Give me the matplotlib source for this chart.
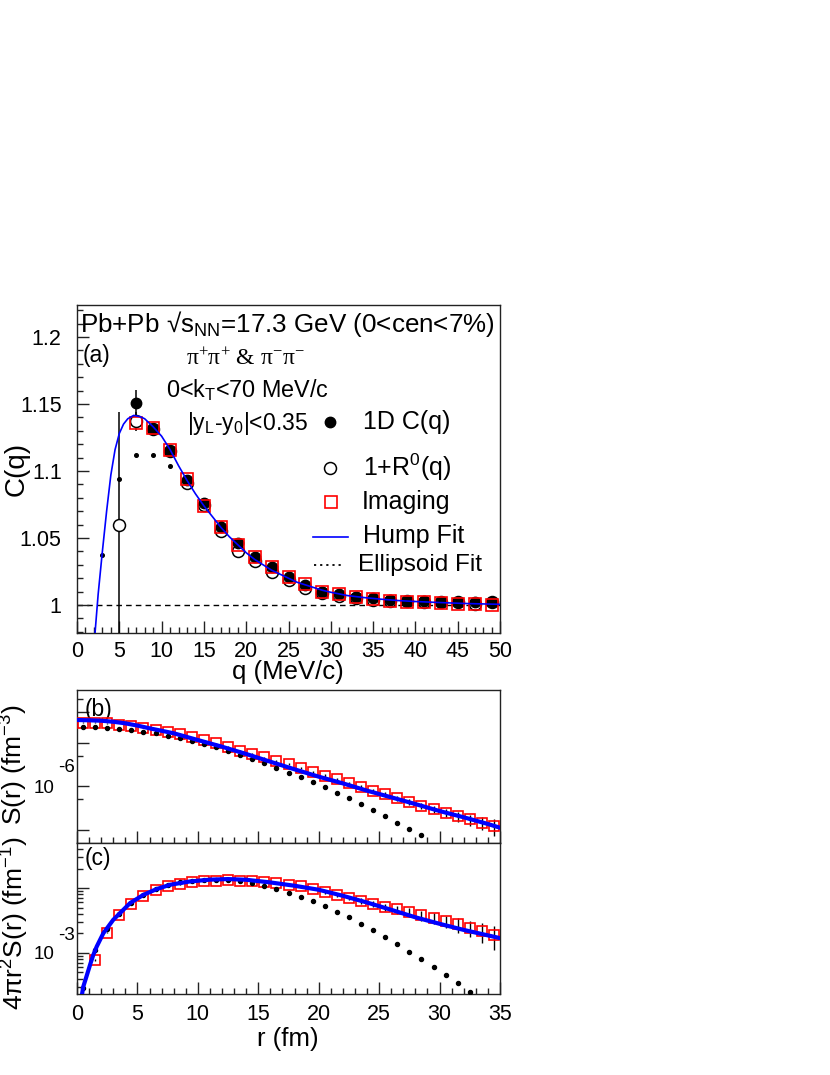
import matplotlib
matplotlib.use("Agg")
import matplotlib.pyplot as plt
from matplotlib.ticker import FixedLocator, MultipleLocator, NullFormatter, FuncFormatter

plt.rcParams['font.family'] = ['Liberation Sans', 'DejaVu Sans']
plt.rcParams['mathtext.fontset'] = 'custom'
plt.rcParams['mathtext.rm'] = 'Liberation Sans'
plt.rcParams['mathtext.it'] = 'Liberation Sans:italic'
plt.rcParams['mathtext.bf'] = 'Liberation Sans:bold'
plt.rcParams['mathtext.default'] = 'regular'

# ---------------- panel (a): correlation function C(q) ----------------
q_1d = [7, 9, 11, 13, 15, 17, 19, 21, 23, 25, 27, 29, 31, 33, 35, 37, 39, 41, 43, 45, 47, 49]
c_1d = [1.151, 1.131, 1.115, 1.093, 1.076, 1.058, 1.046, 1.036, 1.028, 1.021, 1.015,
        1.010, 1.008, 1.006, 1.005, 1.004, 1.003, 1.003, 1.002, 1.002, 1.002, 1.002]
c_1d_err = [0.0095, 0.004, 0.003, 0.003, 0.002, 0.002, 0.002, 0.002, 0.002, 0.002, 0.001,
            0.001, 0.001, 0.001, 0.001, 0.001, 0.001, 0.001, 0.001, 0.001, 0.001, 0.001]

q_r0 = [5, 7, 9, 11, 13, 15, 17, 19, 21, 23, 25, 27, 29, 31, 33, 35, 37, 39, 41, 43, 45, 47, 49]
c_r0 = [1.060, 1.137, 1.131, 1.115, 1.091, 1.075, 1.055, 1.040, 1.033, 1.025, 1.019, 1.013,
        1.009, 1.007, 1.005, 1.004, 1.003, 1.003, 1.002, 1.002, 1.002, 1.001, 1.002]
c_r0_err = [0.084, 0.007, 0.004, 0.003, 0.003, 0.002, 0.002, 0.002, 0.002, 0.002, 0.001, 0.001,
            0.001, 0.001, 0.001, 0.001, 0.001, 0.001, 0.001, 0.001, 0.001, 0.001, 0.001]

q_img = [7, 9, 11, 13, 15, 17, 19, 21, 23, 25, 27, 29, 31, 33, 35, 37, 39, 41, 43, 45, 47, 49]
c_img = [1.136, 1.132, 1.116, 1.094, 1.074, 1.058, 1.045, 1.036, 1.028, 1.021, 1.016,
         1.010, 1.008, 1.006, 1.0045, 1.003, 1.0025, 1.002, 1.0012, 1.0007, 1.0005, 1.000]

q_ell = [3, 5, 7, 9, 11, 13, 15, 17, 19, 21, 23, 25, 27, 29, 31, 33, 35, 37, 39, 41, 43, 45, 47, 49]
c_ell = [1.037, 1.094, 1.112, 1.112, 1.104, 1.090, 1.075, 1.061, 1.048, 1.037, 1.028, 1.020,
         1.015, 1.011, 1.008, 1.006, 1.004, 1.003, 1.002, 1.002, 1.001, 1.001, 1.001, 1.000]

q_hump = [2.13, 2.5, 3.0, 3.5, 4.0, 4.5, 5.0, 5.5, 6.0, 6.7, 7.5, 8.0, 9.0, 10.0, 11.0, 12.0,
          13.0, 14.0, 15.0, 16.0, 17.0, 18.0, 19.0, 20.0, 21.0, 22.0, 23.0, 24.0, 25.0, 26.0,
          27.0, 28.0, 29.0, 30.0, 32.0, 34.0, 36.0, 38.0, 40.0, 43.0, 46.0, 50.0]
c_hump = [0.979, 1.008, 1.040, 1.070, 1.097, 1.116, 1.128, 1.135, 1.139, 1.1415, 1.1405, 1.139,
          1.133, 1.126, 1.116, 1.104, 1.093, 1.083, 1.074, 1.066, 1.058, 1.051, 1.045, 1.039,
          1.034, 1.030, 1.026, 1.023, 1.020, 1.017, 1.015, 1.013, 1.011, 1.0095, 1.007, 1.0055,
          1.0043, 1.0033, 1.0026, 1.0018, 1.0011, 1.0005]

# ---------------- panel (b): source function S(r) ----------------
r_img = [0.5, 1.5, 2.5, 3.5, 4.5, 5.5, 6.5, 7.5, 8.5, 9.5, 10.5, 11.5, 12.5, 13.5, 14.5, 15.5,
         16.5, 17.5, 18.5, 19.5, 20.5, 21.5, 22.5, 23.5, 24.5, 25.5, 26.5, 27.5, 28.5, 29.5,
         30.5, 31.5, 32.5, 33.5, 34.5]
s_img = [2.85e-5, 2.85e-5, 2.75e-5, 2.52e-5, 2.39e-5, 2.19e-5, 1.94e-5, 1.71e-5, 1.54e-5,
         1.32e-5, 1.14e-5, 9.57e-6, 8.02e-6, 6.49e-6, 5.45e-6, 4.56e-6, 3.76e-6, 3.15e-6,
         2.64e-6, 2.13e-6, 1.73e-6, 1.42e-6, 1.15e-6, 9.66e-7, 7.82e-7, 6.43e-7, 5.20e-7,
         4.37e-7, 3.53e-7, 2.96e-7, 2.44e-7, 2.04e-7, 1.71e-7, 1.44e-7, 1.20e-7]
s_img_err = [0.08e-5, 0.06e-5, 0.05e-5, 0.04e-5, 0.04e-5, 0.03e-5, 0.03e-5, 0.03e-5, 0.03e-5,
             0.03e-5, 0.03e-5, 0.25e-6, 0.22e-6, 0.20e-6, 0.18e-6, 0.17e-6, 0.16e-6, 0.15e-6,
             0.14e-6, 0.13e-6, 0.12e-6, 0.11e-6, 0.10e-6, 0.09e-6, 0.085e-6, 0.08e-6, 0.07e-6,
             0.065e-6, 0.06e-6, 0.058e-6, 0.055e-6, 0.052e-6, 0.05e-6, 0.048e-6, 0.05e-6]

r_ell_b = [0.5, 1.5, 2.5, 3.5, 4.5, 5.5, 6.5, 7.5, 8.5, 9.5, 10.5, 11.5, 12.5, 13.5, 14.5,
           15.5, 16.5, 17.5, 18.5, 19.5, 20.5, 21.5, 22.5, 23.5, 24.5, 25.5, 26.5, 27.5, 28.5]
s_ell = [2.31e-5, 2.23e-5, 2.19e-5, 2.04e-5, 1.94e-5, 1.77e-5, 1.63e-5, 1.43e-5, 1.25e-5,
         1.08e-5, 9.25e-6, 7.76e-6, 6.38e-6, 5.16e-6, 4.18e-6, 3.44e-6, 2.64e-6, 2.02e-6,
         1.58e-6, 1.26e-6, 9.33e-7, 7.02e-7, 5.21e-7, 3.79e-7, 2.81e-7, 2.04e-7, 1.43e-7,
         1.03e-7, 7.48e-8]

r_hump_b = [0, 1, 2, 3, 4, 5, 6, 7, 8, 10, 12, 14, 16, 18, 20, 22, 24, 26, 28, 30, 32, 34, 35]
s_hump = [3.29e-5, 3.24e-5, 3.17e-5, 3.00e-5, 2.76e-5, 2.45e-5, 2.12e-5, 1.86e-5, 1.63e-5,
          1.14e-5, 8.00e-6, 5.45e-6, 3.62e-6, 2.42e-6, 1.64e-6, 1.15e-6, 7.82e-7, 5.50e-7,
          3.85e-7, 2.66e-7, 1.91e-7, 1.34e-7, 1.10e-7]

# ---------------- panel (c): 4 pi r^2 S(r) ----------------
r_img_c = [1.5, 2.5, 3.5, 4.5, 5.5, 6.5, 7.5, 8.5, 9.5, 10.5, 11.5, 12.5, 13.5, 14.5, 15.5,
           16.5, 17.5, 18.5, 19.5, 20.5, 21.5, 22.5, 23.5, 24.5, 25.5, 26.5, 27.5, 28.5, 29.5,
           30.5, 31.5, 32.5, 33.5, 34.5]
p_img = [7.80e-4, 2.06e-3, 3.86e-3, 5.71e-3, 7.60e-3, 9.18e-3, 1.059e-2, 1.153e-2, 1.222e-2,
         1.265e-2, 1.297e-2, 1.312e-2, 1.297e-2, 1.265e-2, 1.222e-2, 1.194e-2, 1.125e-2,
         1.059e-2, 9.75e-3, 8.81e-3, 7.94e-3, 7.08e-3, 6.31e-3, 5.69e-3, 5.13e-3, 4.68e-3,
         4.22e-3, 3.80e-3, 3.43e-3, 3.09e-3, 2.75e-3, 2.45e-3, 2.16e-3, 1.86e-3]
p_img_err = [0.3e-4, 0.6e-4, 1.0e-4, 1.4e-4, 1.8e-4, 2.2e-4, 2.6e-4, 3.0e-4, 3.3e-4, 3.6e-4,
             3.9e-4, 4.2e-4, 4.4e-4, 4.6e-4, 4.8e-4, 5.0e-4, 5.2e-4, 5.4e-4, 5.6e-4, 5.8e-4,
             5.9e-4, 6.0e-4, 6.1e-4, 6.2e-4, 6.3e-4, 6.4e-4, 6.5e-4, 6.6e-4, 6.7e-4, 6.8e-4,
             6.9e-4, 7.0e-4, 7.2e-4, 7.5e-4]

r_ell_c = [0.5, 1.5, 2.5, 3.5, 4.5, 5.5, 6.5, 7.5, 8.5, 9.5, 10.5, 11.5, 12.5, 13.5, 14.5,
           15.5, 16.5, 17.5, 18.5, 19.5, 20.5, 21.5, 22.5, 23.5, 24.5, 25.5, 26.5, 27.5, 28.5,
           29.5, 30.5, 31.5, 32.5]
p_ell = [2.85e-4, 1.11e-3, 2.32e-3, 4.01e-3, 5.86e-3, 7.87e-3, 9.66e-3, 1.112e-2, 1.230e-2,
         1.303e-2, 1.337e-2, 1.343e-2, 1.318e-2, 1.268e-2, 1.180e-2, 1.076e-2, 9.55e-3,
         8.38e-3, 7.26e-3, 6.21e-3, 5.20e-3, 4.35e-3, 3.52e-3, 2.81e-3, 2.26e-3, 1.75e-3,
         1.38e-3, 1.05e-3, 8.07e-4, 6.14e-4, 4.57e-4, 3.40e-4, 2.52e-4]

r_hump_c = [0.4, 0.52, 0.8, 1.13, 1.35, 1.63, 2.18, 3.0, 3.56, 4.39, 5.5, 6.6, 7.7, 9.35, 11.0,
            12.5, 14.0, 16.0, 18.0, 20.0, 22.0, 24.0, 26.0, 28.0, 30.0, 32.0, 35.0]
p_hump = [2.2e-4, 3.01e-4, 4.42e-4, 7.0e-4, 9.31e-4, 1.25e-3, 2.01e-3, 3.24e-3, 4.11e-3,
          5.86e-3, 7.87e-3, 9.66e-3, 1.125e-2, 1.265e-2, 1.349e-2, 1.377e-2, 1.343e-2,
          1.222e-2, 1.086e-2, 9.42e-3, 7.60e-3, 5.98e-3, 4.62e-3, 3.54e-3, 2.81e-3, 2.26e-3,
          1.69e-3]

# ---------------- figure ----------------
W, H = 830, 1075
fig = plt.figure(figsize=(W / 100, H / 100), dpi=100)


def fx(px):
    return px / W


def fy(py):
    return 1 - py / H


TICK = 15.5
LOGTICK = 13.5
BLUE = '#0000ff'
RED = '#ff0000'


def style_axes(ax):
    for s in ax.spines.values():
        s.set_linewidth(1.0)
        s.set_color('#222222')
    ax.tick_params(which='both', direction='in', top=False, right=False,
                   labelsize=TICK, width=1.0, color='#222222')
    ax.tick_params(which='major', length=8.6)
    ax.tick_params(which='minor', length=4.3)


# ---- panel (a)
ax_a = fig.add_axes([fx(77), fy(633), fx(500) - fx(77), fy(305) - fy(633)])
style_axes(ax_a)
ax_a.set_xlim(0, 50)
ax_a.set_ylim(0.9791, 1.2239)
ax_a.xaxis.set_major_locator(MultipleLocator(5))
ax_a.xaxis.set_minor_locator(MultipleLocator(1))
ax_a.yaxis.set_major_locator(MultipleLocator(0.05))
ax_a.yaxis.set_minor_locator(MultipleLocator(0.01))
ax_a.yaxis.set_major_formatter(FuncFormatter(lambda v, p: f"{round(v, 3):g}"))
ax_a.xaxis.set_major_formatter(FuncFormatter(lambda v, p: f"{round(v):d}"))
ax_a.tick_params(axis='y', pad=11)
ax_a.tick_params(axis='x', pad=5.5)

ax_a.axhline(1.0, color='black', lw=1.0, ls=(0, (4, 3)), zorder=1)
ax_a.plot(q_ell, c_ell, ls='none', marker='o', ms=2.6, color='black', zorder=2)
ax_a.errorbar(q_r0, c_r0, yerr=c_r0_err, fmt='o', ms=8.6, mfc='white', mec='black',
              mew=1.1, ecolor='black', elinewidth=1.1, capsize=0, zorder=3)
ax_a.errorbar(q_1d, c_1d, yerr=c_1d_err, fmt='o', ms=7.5, mfc='black', mec='black',
              ecolor='black', elinewidth=1.1, capsize=0, zorder=4)
ax_a.plot(q_img, c_img, ls='none', marker='s', ms=9.3, mfc='none', mec=RED, mew=1.2,
          zorder=5)
ax_a.plot(q_hump, c_hump, color=BLUE, lw=1.2, zorder=6)

fig.text(fx(288), fy(679), 'q (MeV/c)', ha='center', va='baseline', fontsize=18.5)
fig.text(fx(17), fy(469), 'C(q)', ha='center', va='center', rotation=90, fontsize=20)

# annotations inside panel (a)
fig.text(fx(80), fy(332), 'Pb+Pb \u221as$_{NN}$=17.3 GeV (0<cen<7%)', ha='left',
         va='baseline', fontsize=18.7)
fig.text(fx(83), fy(362), '(a)', ha='left', va='baseline', fontsize=16.5)
fig.text(fx(245), fy(365), r'$\pi^{+}\pi^{+}$ & $\pi^{-}\pi^{-}$', ha='center',
         va='baseline', fontsize=17, family=['Liberation Serif', 'DejaVu Serif'],
         math_fontfamily='stix')
fig.text(fx(166), fy(397), '0<k$_{T}$<70 MeV/c', ha='left', va='baseline', fontsize=16.8)
fig.text(fx(187), fy(430), '|y$_{L}$-y$_{0}$|<0.35', ha='left', va='baseline', fontsize=16.5)

# legend (drawn manually, ROOT style, no frame)
tf = fig.transFigure
ax_a.plot([fx(330)], [fy(422)], marker='o', ms=7.5, color='black', transform=tf,
          clip_on=False)
fig.text(fx(363), fy(429), '1D C(q)', ha='left', va='baseline', fontsize=18)
ax_a.plot([fx(330)], [fy(468)], marker='o', ms=8.6, mfc='white', mec='black', mew=1.1,
          transform=tf, clip_on=False)
fig.text(fx(363), fy(476), '1+R$^{0}$(q)', ha='left', va='baseline', fontsize=18)
ax_a.plot([fx(330.5)], [fy(502)], marker='s', ms=9.3, mfc='none', mec=RED, mew=1.2,
          transform=tf, clip_on=False)
fig.text(fx(362), fy(509), 'Imaging', ha='left', va='baseline', fontsize=18)
ax_a.plot([fx(313), fx(348)], [fy(537), fy(537)], color=BLUE, lw=1.2, transform=tf,
          clip_on=False)
fig.text(fx(363), fy(543), 'Hump Fit', ha='left', va='baseline', fontsize=18)
ax_a.plot([fx(314), fx(344)], [fy(565), fy(565)], color='black', lw=1.3, ls=(0, (1.2, 2.2)),
          transform=tf, clip_on=False)
fig.text(fx(358), fy(571), 'Ellipsoid Fit', ha='left', va='baseline', fontsize=17.5)

# ---- panel (b)
ax_b = fig.add_axes([fx(77), fy(843), fx(500) - fx(77), fy(690) - fy(843)])
style_axes(ax_b)
ax_b.set_yscale('log')
ax_b.set_xlim(0, 35)
ax_b.set_ylim(4.9e-8, 1.61e-4)
ax_b.xaxis.set_major_locator(MultipleLocator(5))
ax_b.xaxis.set_minor_locator(MultipleLocator(1))
ax_b.xaxis.set_major_formatter(NullFormatter())
ax_b.yaxis.set_major_locator(FixedLocator([1e-7, 1e-6, 1e-5, 5e-5]))
ax_b.yaxis.set_minor_locator(FixedLocator([5e-7, 5e-6, 1e-4]))
ax_b.yaxis.set_major_formatter(
    FuncFormatter(lambda v, p: '10' if abs(v - 1e-6) < 1e-12 else ''))
ax_b.yaxis.set_minor_formatter(NullFormatter())
ax_b.tick_params(axis='y', pad=16, labelsize=LOGTICK)
fig.text(fx(75), fy(768), '-6', ha='right', va='center', fontsize=LOGTICK)

ax_b.errorbar(r_img, s_img, yerr=s_img_err, fmt='s', ms=7.2, mfc='none', mec=RED, mew=1.2,
              ecolor='black', elinewidth=1.0, capsize=0, zorder=3)
ax_b.plot(r_ell_b, s_ell, ls='none', marker='o', ms=2.9, color='black', zorder=4)
ax_b.plot(r_hump_b, s_hump, color=BLUE, lw=3.0, zorder=5)
ax_b.text(0.019, 0.83, '(b)', transform=ax_b.transAxes, fontsize=16.5, ha='left',
          va='baseline')
fig.text(fx(14), fy(765), 'S(r) (fm$^{-3}$)', ha='center', va='center', rotation=90,
         fontsize=19)

# ---- panel (c)
ax_c = fig.add_axes([fx(77), fy(994), fx(500) - fx(77), fy(843) - fy(994)])
style_axes(ax_c)
ax_c.set_yscale('log')
ax_c.set_xlim(0, 35)
ax_c.set_ylim(2.32e-4, 0.0496)
ax_c.xaxis.set_major_locator(MultipleLocator(5))
ax_c.xaxis.set_minor_locator(MultipleLocator(1))
ax_c.xaxis.set_major_formatter(FuncFormatter(lambda v, p: f"{round(v):d}"))
ax_c.yaxis.set_major_locator(FixedLocator([1e-3, 1e-2]))
ax_c.yaxis.set_minor_locator(FixedLocator(
    [k * 1e-4 for k in range(3, 10)] + [k * 1e-3 for k in range(2, 10)] +
    [k * 1e-2 for k in range(2, 5)]))
ax_c.yaxis.set_major_formatter(
    FuncFormatter(lambda v, p: '10' if abs(v - 1e-3) < 1e-9 else ''))
ax_c.yaxis.set_minor_formatter(NullFormatter())
ax_c.tick_params(axis='y', pad=16, labelsize=LOGTICK)
ax_c.tick_params(axis='x', pad=7)
fig.text(fx(75), fy(936), '-3', ha='right', va='center', fontsize=LOGTICK)

ax_c.errorbar(r_img_c, p_img, yerr=p_img_err, fmt='s', ms=7.2, mfc='none', mec=RED,
              mew=1.2, ecolor='black', elinewidth=1.0, capsize=0, zorder=3)
ax_c.plot(r_ell_c, p_ell, ls='none', marker='o', ms=2.9, color='black', zorder=4)
ax_c.plot(r_hump_c, p_hump, color=BLUE, lw=3.0, zorder=5)
ax_c.text(0.019, 0.854, '(c)', transform=ax_c.transAxes, fontsize=16.5, ha='left',
          va='baseline')
fig.text(fx(15), fy(923), r'4$\pi$r$^{2}$S(r) (fm$^{-1}$)', ha='center', va='center',
         rotation=90, fontsize=19)
fig.text(fx(288), fy(1046), 'r (fm)', ha='center', va='baseline', fontsize=18.5)

fig.savefig('out.png', dpi=100)
